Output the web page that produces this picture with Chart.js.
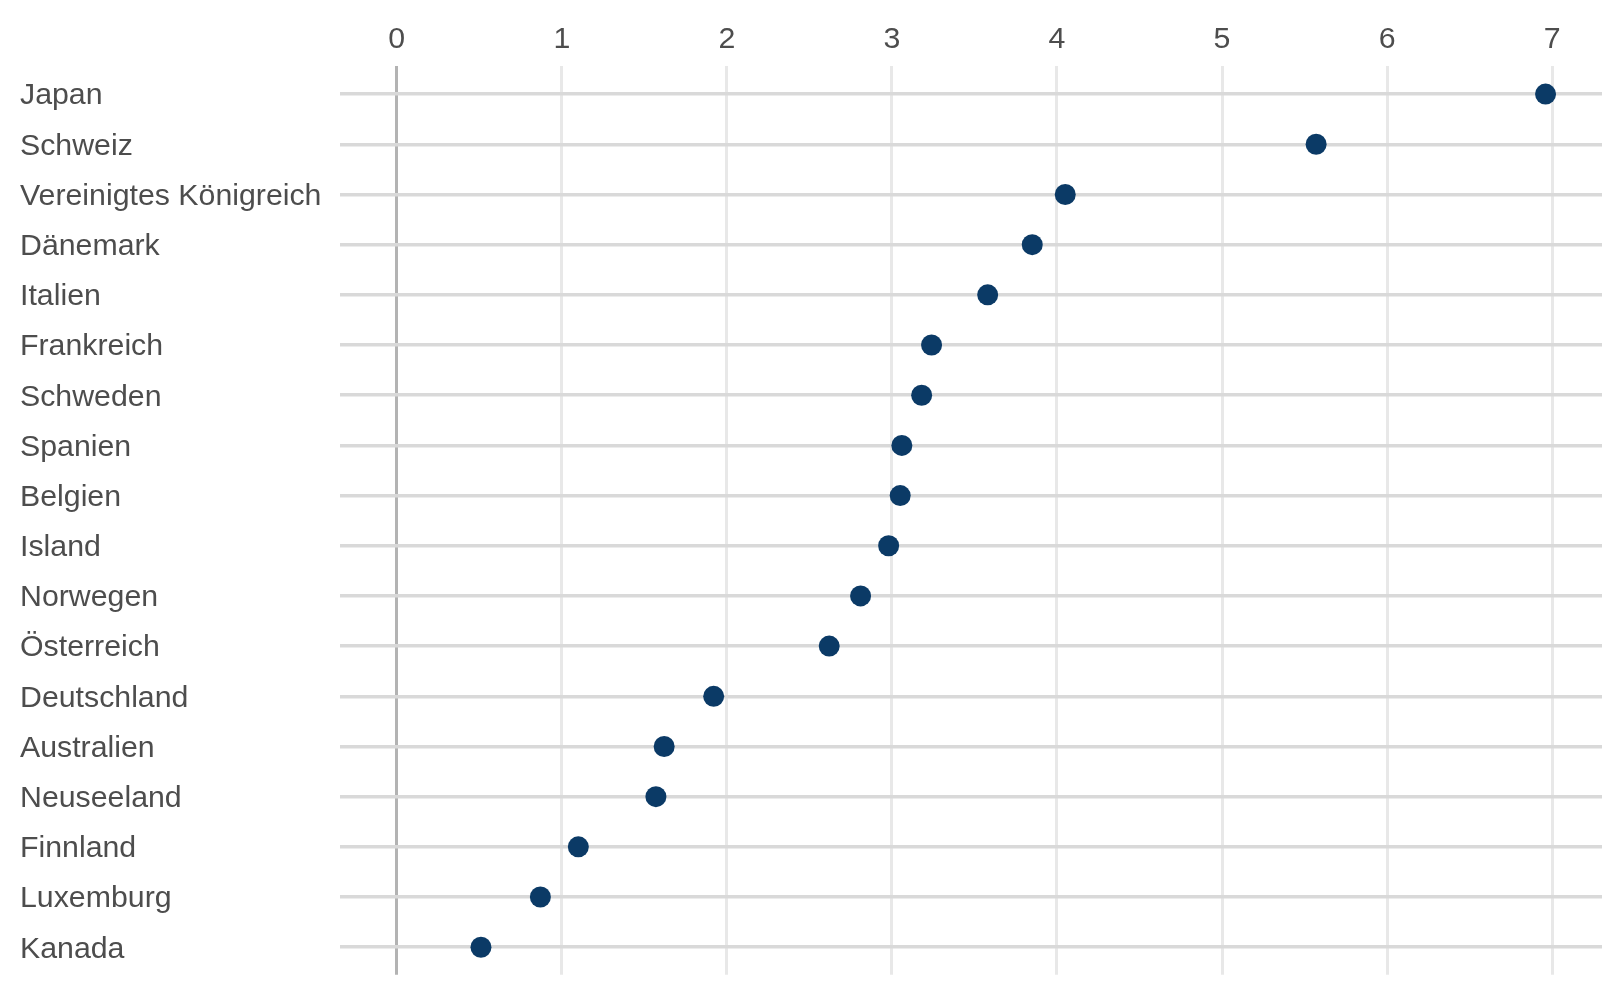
<!DOCTYPE html>
<html>
<head>
<meta charset="utf-8">
<script src="https://cdn.jsdelivr.net/npm/chart.js@4"></script>
<style>
  html, body { margin: 0; padding: 0; background: #fff; }
  #wrap { width: 1620px; height: 996px; }
</style>
</head>
<body>
<div id="wrap"><canvas id="chart"></canvas></div>
<script>
  // Daten
  // ----------------------------------------------------------------------------------------
  const countries = [
    'Japan', 'Schweiz', 'Vereinigtes Königreich', 'Dänemark', 'Italien', 'Frankreich',
    'Schweden', 'Spanien', 'Belgien', 'Island', 'Norwegen', 'Österreich',
    'Deutschland', 'Australien', 'Neuseeland', 'Finnland', 'Luxemburg', 'Kanada'
  ];
  const values = [
    6.96, 5.57, 4.05, 3.85, 3.58, 3.24,
    3.18, 3.06, 3.05, 2.98, 2.81, 2.62,
    1.92, 1.62, 1.57, 1.10, 0.87, 0.51
  ];
  const xTicks = [0, 1, 2, 3, 4, 5, 6, 7];

  const FONT = { family: '"Liberation Sans", Arial, sans-serif', size: 30.3 };
  const TEXT = '#4d4d4d';

  const points = values.map((v, i) => ({ x: v, y: i }));

  new Chart(document.getElementById('chart'), {
    type: 'scatter',
    data: {
      datasets: [{
        data: points,
        backgroundColor: '#0b3a66',
        borderColor: '#0b3a66',
        borderWidth: 0,
        pointRadius: 10.5,
        pointHoverRadius: 10.5
      }]
    },
    options: {
      responsive: true,
      maintainAspectRatio: false,
      animation: false,
      layout: { padding: { left: 20, right: 18, top: 0, bottom: 21 } },
      plugins: { legend: { display: false }, tooltip: { enabled: false } },
      scales: {
        x: {
          position: 'top',
          min: -0.344,
          max: 7.302,
          afterBuildTicks: (s) => { s.ticks = xTicks.map(v => ({ value: v })); },
          afterFit: (s) => { s.height = 66; },
          border: { display: false },
          grid: {
            drawTicks: false,
            lineWidth: 3,
            color: (c) => (c.tick && c.tick.value === 0 ? '#b3b3b3' : '#e8e8e8')
          },
          ticks: { color: TEXT, font: FONT, padding: 8 }
        },
        y: {
          reverse: true,
          min: -0.56,
          max: 17.55,
          afterBuildTicks: (s) => { s.ticks = countries.map((_, i) => ({ value: i })); },
          afterFit: (s) => { s.width = 320; },
          border: { display: false },
          grid: { drawTicks: false, lineWidth: 3.5, color: '#d9d9d9' },
          ticks: {
            color: TEXT,
            font: FONT,
            crossAlign: 'far',
            labelOffset: 2,
            callback: (v) => countries[v] ?? ''
          }
        }
      }
    }
  });
</script>
</body>
</html>
